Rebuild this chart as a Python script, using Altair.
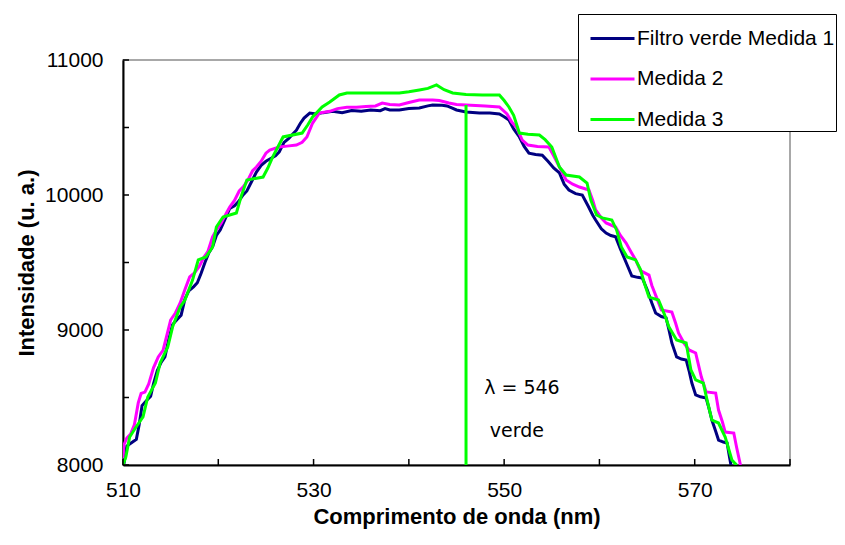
import altair as alt
import pandas as pd

series_names = ["Filtro verde Medida 1", "Medida 2", "Medida 3"]
series_colors = ["#000080", "#FF00FF", "#00FF00"]

m1_x = [510.1, 510.4, 511.0, 511.4, 511.7, 512.0, 512.5, 512.9, 513.2, 513.6, 514.0, 514.4, 514.8, 515.2,
        515.7, 516.1, 516.5, 516.9, 517.4, 517.8, 518.2, 518.6, 519.0, 519.4, 519.8, 520.2, 520.7, 521.2,
        521.7, 522.1, 522.6, 523.0, 523.5, 524.0, 524.5, 525.0, 525.5, 526.0, 526.4, 526.9, 527.4, 527.8,
        528.2, 528.6, 529.0, 529.6, 530.3, 531.0, 532.0, 533.0, 534.0, 535.0, 536.0, 537.0, 537.5, 538.0,
        539.0, 540.0, 541.1, 542.0, 542.5, 543.5, 544.0, 544.5, 545.0, 546.0, 547.4, 548.5, 549.5, 550.0,
        550.5, 551.0, 551.6, 552.1, 552.6, 553.3, 554.0, 554.6, 555.2, 555.8, 556.3, 556.8, 557.5, 558.2,
        558.8, 559.3, 559.6, 560.2, 560.7, 561.2, 561.7, 562.2, 562.8, 563.4, 564.0, 564.5, 565.0, 565.5,
        565.9, 566.5, 567.0, 567.3, 567.6, 568.1, 568.6, 569.1, 569.4, 569.7, 570.1, 570.6, 571.2, 571.5,
        571.8, 572.2, 572.5, 573.0, 573.4, 573.6, 573.8]
m1_y = [8010, 8140, 8170, 8190, 8300, 8440, 8480, 8510, 8600, 8700, 8760, 8800, 8930, 9040,
        9080, 9110, 9230, 9290, 9320, 9350, 9420, 9500, 9570, 9615, 9700, 9740, 9820, 9900,
        9920, 9950, 10000, 10030, 10100, 10170, 10220, 10250, 10270, 10290, 10320, 10390, 10420, 10450,
        10480, 10530, 10570, 10607, 10600, 10610, 10620, 10610, 10625, 10620, 10630, 10625, 10640, 10630,
        10630, 10640, 10644, 10660, 10667, 10665, 10660, 10645, 10630, 10615, 10607, 10607, 10600, 10580,
        10556, 10490, 10430, 10360, 10310, 10300, 10295, 10250, 10200, 10163, 10080, 10037, 10010, 10000,
        9920, 9850, 9815, 9750, 9718, 9700, 9690, 9600, 9500, 9400, 9390, 9385, 9300, 9200,
        9126, 9100, 9090, 9000, 8904, 8800, 8785, 8778, 8700, 8607, 8519, 8505, 8496, 8420,
        8333, 8250, 8185, 8170, 8163, 8080, 8000]

m2_x = [510.0, 510.1, 510.4, 510.8, 511.2, 511.6, 511.9, 512.3, 512.7, 513.2, 513.7, 514.2, 514.6, 515.0,
        515.5, 516.0, 516.5, 517.0, 517.5, 518.0, 518.5, 518.9, 519.4, 519.8, 520.3, 520.8, 521.2, 521.7,
        522.2, 522.6, 523.1, 523.6, 524.0, 524.5, 525.0, 525.4, 526.4, 527.2, 528.2, 528.8, 529.3, 529.9,
        530.6, 531.7, 532.5, 533.5, 534.5, 535.5, 536.5, 537.2, 538.0, 539.0, 540.0, 541.1, 542.5, 543.2,
        544.2, 545.0, 546.0, 548.0, 549.5, 550.3, 550.8, 551.3, 551.9, 552.5, 553.5, 554.7, 555.2, 555.8,
        556.5, 557.2, 557.9, 558.9, 559.3, 559.6, 560.2, 560.7, 561.7, 562.2, 562.8, 563.3, 563.8, 564.3,
        565.2, 565.5, 566.0, 566.5, 567.6, 568.0, 568.3, 568.9, 569.4, 570.1, 570.4, 570.7, 571.2, 572.2,
        572.5, 572.9, 573.2, 574.1, 574.4, 574.8]
m2_y = [8050, 8150, 8200, 8230, 8300, 8460, 8530, 8540, 8600, 8720, 8800, 8850, 8960, 9074,
        9126, 9200, 9300, 9393, 9422, 9470, 9540, 9580, 9690, 9740, 9790, 9860, 9911, 9960,
        10030, 10059, 10110, 10180, 10207, 10250, 10310, 10333, 10356, 10362, 10370, 10390, 10430, 10533,
        10607, 10620, 10640, 10650, 10650, 10655, 10660, 10681, 10670, 10667, 10685, 10704, 10704, 10700,
        10681, 10670, 10667, 10660, 10652, 10600, 10540, 10500, 10407, 10370, 10360, 10356, 10290, 10207,
        10111, 10080, 10059, 10037, 9960, 9889, 9830, 9793, 9763, 9700, 9644, 9580, 9519, 9440,
        9407, 9330, 9240, 9148, 9133, 9050, 8978, 8900, 8852, 8830, 8740, 8652, 8541, 8533,
        8407, 8320, 8244, 8237, 8130, 8000]

m3_x = [510.0, 510.3, 510.7, 511.3, 512.1, 512.6, 513.4, 513.9, 514.7, 515.2, 516.0, 516.5, 517.3, 517.9,
        518.7, 519.4, 519.8, 520.5, 521.9, 522.4, 523.0, 524.7, 525.2, 525.7, 526.8, 528.8, 529.4, 529.9,
        530.9, 531.7, 532.7, 533.5, 536.0, 539.0, 540.0, 541.1, 542.0, 542.9, 543.7, 544.6, 546.0, 547.7,
        549.5, 550.0, 550.5, 551.0, 551.6, 552.5, 553.7, 554.3, 555.0, 555.8, 556.5, 557.9, 558.7, 559.1,
        559.7, 560.3, 561.3, 561.8, 562.3, 562.9, 563.8, 564.3, 564.7, 565.2, 566.2, 566.8, 567.3, 568.1,
        569.1, 569.6, 570.1, 570.9, 571.3, 571.8, 572.5, 573.2, 573.9, 574.4]
m3_y = [8000, 8060, 8207, 8274, 8356, 8504, 8607, 8756, 8874, 9022, 9170, 9222, 9370, 9519,
        9541, 9615, 9763, 9837, 9867, 9990, 10111, 10133, 10200, 10281, 10430, 10459, 10520, 10578,
        10652, 10689, 10741, 10756, 10756, 10756, 10765, 10778, 10790, 10815, 10780, 10756, 10745, 10741,
        10741, 10700, 10652, 10590, 10459, 10450, 10444, 10410, 10356, 10207, 10148, 10133, 10089, 9963,
        9852, 9830, 9815, 9741, 9615, 9541, 9519, 9450, 9350, 9244, 9222, 9120, 9022, 8926,
        8904, 8704, 8630, 8607, 8481, 8333, 8311, 8207, 8037, 8000]

x_ticks = [510, 520, 530, 540, 550, 560, 570, 580]
y_ticks = [8000, 8500, 9000, 9500, 10000, 10500, 11000]

marker_x = [546]
marker_y0 = [8000]
marker_y1 = [10667]

note_x = [547.9, 548.5]
note_y = [8570, 8255]
note_text = ["λ = 546", "verde"]

rows = []
for name, xs, ys in zip(series_names, [m1_x, m2_x, m3_x], [m1_y, m2_y, m3_y]):
    for i, (a, b) in enumerate(zip(xs, ys)):
        rows.append({"series": name, "wl": a, "val": b, "idx": i})
df = pd.DataFrame(rows)

W, H = 667, 405
xscale = alt.Scale(domain=[510, 580], nice=False, zero=False)
yscale = alt.Scale(domain=[8000, 11000], nice=False, zero=False)

lines = alt.Chart(df).mark_line(strokeWidth=3, clip=True).encode(
    x=alt.X("wl:Q", scale=xscale, title="Comprimento de onda (nm)",
            axis=alt.Axis(values=x_ticks, labelExpr="datum.value % 20 == 10 ? datum.label : ''",
                          ticks=False, tickSize=0, grid=False, labelPadding=14, titlePadding=6,
                          labelFlush=False)),
    y=alt.Y("val:Q", scale=yscale, title="Intensidade (u. a.)",
            axis=alt.Axis(values=y_ticks, format="d",
                          labelExpr="datum.value % 1000 == 0 ? datum.label : ''",
                          ticks=False, tickSize=0, grid=False, labelPadding=20, titlePadding=6,
                          labelFlush=False)),
    color=alt.Color("series:N", title=None,
                    scale=alt.Scale(domain=series_names, range=series_colors),
                    legend=alt.Legend(orient="none", legendX=455, legendY=-46,
                                      symbolType="stroke", symbolSize=1936, symbolStrokeWidth=3,
                                      labelFont="Liberation Sans", labelFontSize=21, labelColor="black",
                                      labelOffset=1, rowPadding=6.5, padding=1, symbolOffset=10,
                                      strokeColor="black", fillColor="white", labelLimit=400)),
    order="idx:Q",
)

marker = alt.Chart(pd.DataFrame({"x": marker_x, "y0": marker_y0, "y1": marker_y1})).mark_rule(
    color="#00FF00", strokeWidth=3).encode(
    x=alt.X("x:Q", scale=xscale), y=alt.Y("y0:Q", scale=yscale), y2="y1:Q")

notes = alt.Chart(pd.DataFrame({"x": note_x, "y": note_y, "t": note_text})).mark_text(
    align="left", baseline="middle", font="DejaVu Sans", fontSize=19, color="black").encode(
    x=alt.X("x:Q", scale=xscale), y=alt.Y("y:Q", scale=yscale), text="t:N")

ytick_marks = alt.Chart(pd.DataFrame({"v": y_ticks})).mark_rule(color="black", strokeWidth=1.5).encode(
    y=alt.Y("v:Q", scale=yscale), x=alt.value(0), x2=alt.value(6))

xtick_marks = alt.Chart(pd.DataFrame({"v": x_ticks})).mark_rule(color="black", strokeWidth=1.5).encode(
    x=alt.X("v:Q", scale=xscale), y=alt.value(H), y2=alt.value(H - 6))

chart = alt.layer(lines, marker, notes, ytick_marks, xtick_marks).properties(
    width=W, height=H,
    autosize=alt.AutoSizeParams(type="none"),
    padding={"left": 123, "top": 60, "right": 55, "bottom": 80},
).configure_view(
    stroke="#8c8c8c", strokeWidth=1.5
).configure_axis(
    domainColor="black", domainWidth=2,
    labelFont="Liberation Sans", labelFontSize=21, labelColor="black",
    titleFont="Liberation Sans", titleFontSize=22, titleFontWeight="bold", titleColor="black",
)

chart.save("out.html", embed_options={"renderer": "svg", "actions": False})
